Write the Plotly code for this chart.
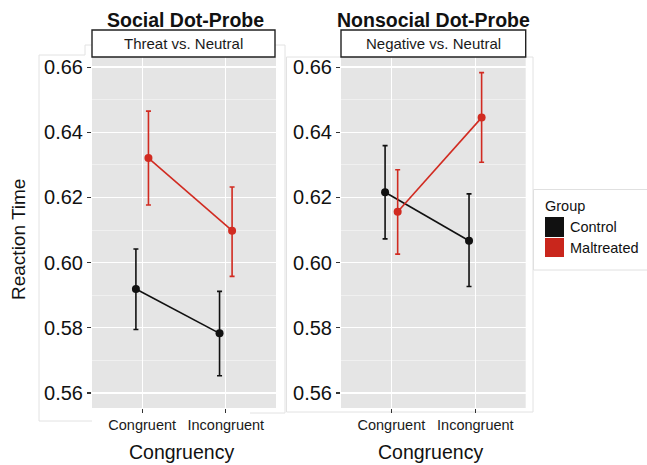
import plotly.graph_objects as go

# ---------------- data ----------------
categories = ["Congruent", "Incongruent"]
groups = ["Control", "Maltreated"]
panel_titles = ["Social Dot-Probe", "Nonsocial Dot-Probe"]
strip_labels = ["Threat vs. Neutral", "Negative vs. Neutral"]

# Social (Threat vs. Neutral)
social_control = [0.5919, 0.5783]
social_control_hi = [0.6042, 0.5912]
social_control_lo = [0.5795, 0.5653]
social_malt = [0.6321, 0.6098]
social_malt_hi = [0.6465, 0.6232]
social_malt_lo = [0.6177, 0.5958]

# Nonsocial (Negative vs. Neutral)
nonsocial_control = [0.6216, 0.6067]
nonsocial_control_hi = [0.6359, 0.6211]
nonsocial_control_lo = [0.6073, 0.5927]
nonsocial_malt = [0.6156, 0.6445]
nonsocial_malt_hi = [0.6285, 0.6583]
nonsocial_malt_lo = [0.6026, 0.6308]

y_ticks = [0.56, 0.58, 0.60, 0.62, 0.64, 0.66]
y_tick_labels = ["0.56", "0.58", "0.60", "0.62", "0.64", "0.66"]

# ---------------- style ----------------
W, H = 647, 465
COLORS = {"Control": "#111111", "Maltreated": "#d12b21"}
FONT = "Liberation Sans, Arial, Helvetica, sans-serif"
DODGE = 0.075
cat_pos = [1, 2]


def px(x):
    return x / W


def py(y):
    return 1 - y / H


fig = go.Figure()

panels = [
    ("x", "y", [(groups[0], social_control, social_control_hi, social_control_lo),
                (groups[1], social_malt, social_malt_hi, social_malt_lo)]),
    ("x2", "y2", [(groups[0], nonsocial_control, nonsocial_control_hi, nonsocial_control_lo),
                  (groups[1], nonsocial_malt, nonsocial_malt_hi, nonsocial_malt_lo)]),
]

for xa, ya, series in panels:
    for name, vals, hi, lo in series:
        off = -DODGE if name == groups[0] else DODGE
        xs = [c + off for c in cat_pos]
        fig.add_trace(go.Scatter(
            x=xs, y=vals, mode="lines+markers", name=name, showlegend=False,
            xaxis=xa, yaxis=ya,
            line=dict(color=COLORS[name], width=1.6),
            marker=dict(color=COLORS[name], size=8),
            error_y=dict(type="data", symmetric=False,
                         array=[h - v for h, v in zip(hi, vals)],
                         arrayminus=[v - l for v, l in zip(vals, lo)],
                         color=COLORS[name], thickness=1.6, width=2.5),
        ))

# axes
dom_y = [py(408), py(57)]
xdoms = [[px(92), px(276)], [px(341), px(525.7)]]
for i, (xa, ya) in enumerate([("xaxis", "yaxis"), ("xaxis2", "yaxis2")]):
    fig.layout[xa] = dict(
        domain=xdoms[i], range=[0.4, 2.6], anchor="y" if i == 0 else "y2",
        tickmode="array", tickvals=cat_pos, ticktext=categories,
        showgrid=True, gridcolor="white", gridwidth=1.3,
        zeroline=False, showline=False,
        ticks="outside", ticklen=4, tickwidth=1.2, tickcolor="#333333",
        tickfont=dict(family=FONT, size=14.5, color="#1a1a1a"),
    )
    fig.layout[ya] = dict(
        domain=dom_y, range=[0.5554, 0.6631], anchor="x" if i == 0 else "x2",
        tickmode="array", tickvals=y_ticks, ticktext=y_tick_labels,
        showgrid=True, gridcolor="white", gridwidth=1.3,
        minor=dict(dtick=0.01, tick0=0.55, showgrid=True, gridcolor="#f6f6f6", gridwidth=0.6),
        zeroline=False, showline=False,
        ticks="outside", ticklen=4, tickwidth=1.2, tickcolor="#333333",
        tickfont=dict(family=FONT, size=20, color="#111111"),
    )

shapes = []
FAINT = "#e2e2e2"
# faint composite frames
shapes.append(dict(type="path", xref="paper", yref="paper", layer="below",
                   path=f"M{px(39)},{py(421)} L{px(39)},{py(55)} L{px(85)},{py(55)} L{px(85)},{py(45)} L{px(92)},{py(45)}",
                   line=dict(color=FAINT, width=1)))
shapes.append(dict(type="path", xref="paper", yref="paper", layer="below",
                   path=f"M{px(39)},{py(421)} L{px(92)},{py(421)}",
                   line=dict(color=FAINT, width=1)))
shapes.append(dict(type="path", xref="paper", yref="paper", layer="below",
                   path=f"M{px(275)},{py(45)} L{px(285)},{py(45)} L{px(285)},{py(413)} L{px(250)},{py(413)}",
                   line=dict(color=FAINT, width=1)))
shapes.append(dict(type="path", xref="paper", yref="paper", layer="below",
                   path=f"M{px(341)},{py(57)} L{px(286.5)},{py(57)} L{px(286.5)},{py(412)} L{px(533)},{py(412)} L{px(533)},{py(57)} L{px(525.7)},{py(57)}",
                   line=dict(color=FAINT, width=1)))

# strip boxes
strip_x = [(92, 275), (341, 525.7)]
for (x0, x1) in strip_x:
    shapes.append(dict(type="rect", xref="paper", yref="paper",
                       x0=px(x0), x1=px(x1), y0=py(57), y1=py(30),
                       fillcolor="white", line=dict(color="#222222", width=1.4)))

# legend box and swatches
shapes.append(dict(type="rect", xref="paper", yref="paper",
                   x0=px(533.5), x1=px(660), y0=py(270), y1=py(189.5),
                   fillcolor="white", line=dict(color="#e0e0e0", width=1)))
sw_y = [(217, 237), (238, 257)]
for g, (y0, y1) in zip(groups, sw_y):
    shapes.append(dict(type="rect", xref="paper", yref="paper",
                       x0=px(545), x1=px(564), y0=py(y1), y1=py(y0),
                       fillcolor=COLORS[g] if g == groups[0] else "#c9261c",
                       line=dict(width=0)))

annotations = []
title_cx = [185, 433]
strip_cx = [(92 + 275) / 2, (341 + 525.7) / 2]
for t, cx in zip(panel_titles, title_cx):
    annotations.append(dict(text=f"<b>{t}</b>", x=px(cx), y=py(19.5), xref="paper", yref="paper",
                            showarrow=False, xanchor="center", yanchor="middle",
                            font=dict(family=FONT, size=19.5, color="#111111")))
for t, cx in zip(strip_labels, strip_cx):
    annotations.append(dict(text=t, x=px(cx), y=py(44), xref="paper", yref="paper",
                            showarrow=False, xanchor="center", yanchor="middle",
                            font=dict(family=FONT, size=15, color="#1a1a1a")))
# axis titles
annotations.append(dict(text="Reaction Time", x=px(18), y=py(240), xref="paper", yref="paper",
                        showarrow=False, textangle=-90, xanchor="center", yanchor="middle",
                        font=dict(family=FONT, size=19, color="#111111")))
for cx in [181, 430]:
    annotations.append(dict(text="Congruency", x=px(cx), y=py(452), xref="paper", yref="paper",
                            showarrow=False, xanchor="center", yanchor="middle",
                            font=dict(family=FONT, size=19.5, color="#111111")))
# legend texts
annotations.append(dict(text="Group", x=px(543), y=py(206), xref="paper", yref="paper",
                        showarrow=False, xanchor="left", yanchor="middle",
                        font=dict(family=FONT, size=14.5, color="#111111")))
for g, (y0, y1) in zip(groups, sw_y):
    annotations.append(dict(text=g, x=px(568), y=py((y0 + y1) / 2), xref="paper", yref="paper",
                            showarrow=False, xanchor="left", yanchor="middle",
                            font=dict(family=FONT, size=14.5, color="#111111")))

fig.update_layout(
    width=W, height=H,
    margin=dict(l=0, r=0, t=0, b=0),
    paper_bgcolor="white", plot_bgcolor="#e5e5e5",
    showlegend=False, hovermode=False,
    shapes=shapes, annotations=annotations,
    font=dict(family=FONT),
)

fig.write_html("out.html",
               config={"displayModeBar": False, "staticPlot": True},
               post_script="document.body.style.margin='0';document.body.style.padding='0';document.body.style.overflow='hidden';")
